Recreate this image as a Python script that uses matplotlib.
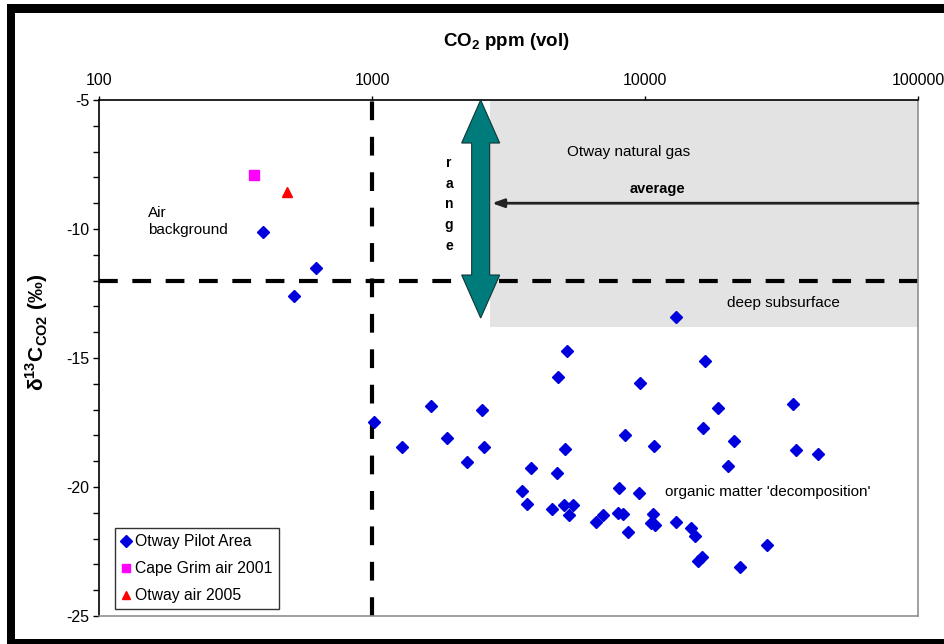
import numpy as np
import matplotlib
matplotlib.use('Agg')
import matplotlib.pyplot as plt
import matplotlib.patches as mpatches
from matplotlib.transforms import IdentityTransform
from matplotlib.ticker import FixedLocator, MultipleLocator, NullLocator, FuncFormatter

plt.rcParams['font.family'] = ['Liberation Sans', 'DejaVu Sans']
plt.rcParams['axes.unicode_minus'] = False
plt.rcParams['mathtext.fontset'] = 'custom'
plt.rcParams['mathtext.rm'] = 'Liberation Sans:bold'
plt.rcParams['mathtext.bf'] = 'Liberation Sans:bold'

# Otway Pilot Area samples: CO2 (ppm vol) and d13C (permil)
pilot_co2 = [400, 622, 518, 12970, 1016, 1291, 1641, 1877, 2223, 2523,
             2573, 3535, 3697, 3813, 4553, 4761, 4789, 5050, 5106, 5166,
             5281, 5463, 6598, 7037, 7984, 8012, 8327, 8450, 8643, 9531,
             9588, 10490, 10670, 10790, 10850, 12950, 14700, 15280, 15600, 16130,
             16310, 16630, 18510, 20140, 21240, 22230, 27990, 34930, 35650, 43120]
pilot_d13c = [-10.1, -11.5, -12.6, -13.4, -17.5, -18.45, -16.87, -18.1, -19.03, -17.02,
              -18.45, -20.16, -20.64, -19.27, -20.84, -19.44, -15.75, -20.69, -18.51, -14.73,
              -21.08, -20.69, -21.37, -21.08, -21.02, -20.03, -21.04, -18.0, -21.73, -20.23,
              -15.98, -21.38, -21.04, -18.42, -21.46, -21.34, -21.59, -21.9, -22.86, -22.73,
              -17.7, -15.12, -16.92, -19.2, -18.23, -23.12, -22.23, -16.8, -18.55, -18.72]

capegrim_co2 = [370]
capegrim_d13c = [-7.9]
otwayair_co2 = [487]
otwayair_d13c = [-8.55]

# reference lines / natural gas box
air_co2_limit = 1000
d13c_limit = -12
gas_co2_min = 2700
gas_d13c_range = (-13.8, -5)
gas_d13c_avg = -9.0
arrow_co2 = 2500
arrow_range = (-5, -13.45)

x_ticks = [100, 1000, 10000, 100000]

fig = plt.figure(figsize=(9.44, 6.44), dpi=100)
ax = fig.add_axes([0.1049, 0.0435, 0.8676, 0.8012])

ax.set_xscale('log')
ax.set_xlim(100, 100000)
ax.set_ylim(-25, -5)

# gray natural gas region
ax.add_patch(mpatches.Rectangle((gas_co2_min, gas_d13c_range[0]), 100000 - gas_co2_min,
                                gas_d13c_range[1] - gas_d13c_range[0],
                                facecolor='#e3e3e3', edgecolor='none', zorder=0))

ax.axvline(air_co2_limit, color='black', lw=3, ls=(0, (4.5, 4)), zorder=2)
ax.axhline(d13c_limit, color='black', lw=3, ls=(0, (4.5, 3.5)), zorder=2)

# average arrow
ax.annotate('', xy=(arrow_co2 * 1.1, gas_d13c_avg), xytext=(100000, gas_d13c_avg),
            arrowprops=dict(arrowstyle='-|>,head_length=0.7,head_width=0.25',
                            color='#222222', lw=2, shrinkA=0, shrinkB=0), zorder=3)

# teal double arrow for range (built in pixels)
cx, ytop = ax.transData.transform((arrow_co2, arrow_range[0]))
_, ybot = ax.transData.transform((arrow_co2, arrow_range[1]))
hw, sw, hl = 19, 9, 43
verts = [(cx, ytop), (cx + hw, ytop - hl), (cx + sw, ytop - hl), (cx + sw, ybot + hl),
         (cx + hw, ybot + hl), (cx, ybot), (cx - hw, ybot + hl), (cx - sw, ybot + hl),
         (cx - sw, ytop - hl), (cx - hw, ytop - hl)]
fig.patches.append(mpatches.Polygon(verts, closed=True, facecolor='#007b7b',
                                    edgecolor='#0f3535', lw=0.8,
                                    transform=IdentityTransform(), zorder=4))

ax.plot(pilot_co2, pilot_d13c, 'D', color='#0000dd', ms=6.5, ls='none',
        label='Otway Pilot Area', zorder=5)
ax.plot(capegrim_co2, capegrim_d13c, 's', color='#ff00ff', ms=7, ls='none',
        label='Cape Grim air 2001', zorder=5)
ax.plot(otwayair_co2, otwayair_d13c, '^', color='#ff0000', ms=7, ls='none',
        label='Otway air 2005', zorder=5)

# annotations
ax.text(1914, -9.05, 'r\na\nn\ng\ne', fontsize=10, fontweight='bold', ha='center',
        va='center', linespacing=1.6)
ax.text(5180, -7.02, 'Otway natural gas', fontsize=11, va='center')
ax.text(11070, -8.45, 'average', fontsize=10.5, fontweight='bold', ha='center', va='center')
ax.text(19950, -12.85, 'deep subsurface', fontsize=11, va='center')
ax.text(151, -9.7, 'Air\nbackground', fontsize=11, va='center', linespacing=1.3)
ax.text(11830, -20.2, "organic matter 'decomposition'", fontsize=11, va='center')

# axes styling
ax.xaxis.tick_top()
ax.xaxis.set_major_locator(FixedLocator(x_ticks))
ax.xaxis.set_minor_locator(NullLocator())
ax.xaxis.set_major_formatter(FuncFormatter(lambda v, p: '%d' % v))
ax.yaxis.set_major_locator(MultipleLocator(5))
ax.yaxis.set_minor_locator(MultipleLocator(1))
ax.yaxis.set_major_formatter(FuncFormatter(lambda v, p: '%d' % v))
ax.tick_params(axis='x', which='major', direction='out', length=3, width=1,
               labelsize=11.5, pad=6)
ax.tick_params(axis='y', which='both', direction='out', length=4, width=1,
               labelsize=11.5, pad=3)

ax.spines['top'].set_color('black')
ax.spines['left'].set_color('black')
ax.spines['right'].set_color('#909090')
ax.spines['bottom'].set_color('#909090')
for s in ax.spines.values():
    s.set_linewidth(1.2)

ax.set_ylabel(r'δ$^{13}$C$_{\mathrm{CO2}}$ (‰)', fontsize=15, fontweight='bold')
ax.yaxis.set_label_coords(-0.06, 0.55)
fig.text(0.536, 0.935, r'CO$_2$ ppm (vol)', fontsize=13.5, fontweight='bold',
         ha='center', va='center')

leg = ax.legend(loc='lower left', bbox_to_anchor=(0.019, 0.013), borderaxespad=0,
                frameon=True, fancybox=False, fontsize=11.3, handlelength=0.6,
                handletextpad=0.3, labelspacing=0.75, borderpad=0.4, markerscale=0.9)
leg.get_frame().set_edgecolor('black')
leg.get_frame().set_linewidth(1)

# outer black frame
W, H = 944, 644
fig.patches.append(mpatches.Rectangle((7 / W, 0), 8 / W, (640 - 4) / H, transform=fig.transFigure,
                                      facecolor='black', edgecolor='none'))
fig.patches.append(mpatches.Rectangle((7 / W, 1 - 13 / H), 1, 9 / H, transform=fig.transFigure,
                                      facecolor='black', edgecolor='none'))
fig.patches.append(mpatches.Rectangle((7 / W, 0), 1, 5 / H, transform=fig.transFigure,
                                      facecolor='black', edgecolor='none'))

fig.savefig('out.png', dpi=100)
